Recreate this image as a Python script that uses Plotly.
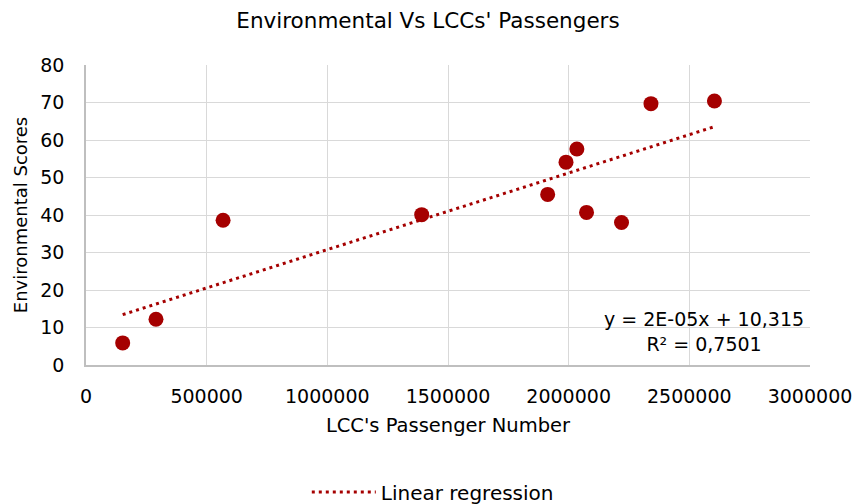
import numpy as np
import plotly.graph_objects as go

# Data
passengers = [152000, 290000, 568000, 1391000, 1913000, 1989000, 2034000, 2074000, 2219000, 2341000, 2604000]
env_scores = [5.9, 12.2, 38.6, 40.1, 45.5, 54.1, 57.6, 40.7, 38.0, 69.7, 70.4]
x_ticks = [0, 500000, 1000000, 1500000, 2000000, 2500000, 3000000]
y_ticks = [0, 10, 20, 30, 40, 50, 60, 70, 80]

FONT = "DejaVu Sans"
RED = "#A50000"

x_arr = np.array(passengers, dtype=float)
y_arr = np.array(env_scores, dtype=float)
slope, intercept = np.polyfit(x_arr, y_arr, 1)
fit_x = [x_arr.min(), x_arr.max()]
fit_y = [slope * v + intercept for v in fit_x]

fig = go.Figure()
fig.add_trace(go.Scatter(
    x=passengers, y=env_scores, mode="markers",
    marker=dict(color=RED, size=15),
    showlegend=False, name="Data"))
fig.add_trace(go.Scatter(
    x=fit_x, y=fit_y, mode="lines",
    line=dict(color=RED, width=3, dash="3px,4px"),
    name="Linear regression", showlegend=True))

fig.add_annotation(
    x=0.8536, y=0.113, xref="paper", yref="paper",
    text="y = 2E-05x + 10,315<br>R² = 0,7501",
    showarrow=False, align="center", xanchor="center", yanchor="middle",
    font=dict(family=FONT, size=19, color="#000000"))

axis_common = dict(
    showgrid=True, gridcolor="#D9D9D9", gridwidth=1.3,
    zeroline=False, showline=True, linecolor="#BFBFBF", linewidth=1.5,
    ticks="", tickfont=dict(family=FONT, size=19, color="#000000"),
)

fig.update_layout(
    width=856, height=504,
    margin=dict(l=86, r=46, t=65, b=139, autoexpand=False),
    paper_bgcolor="white", plot_bgcolor="white",
    title=dict(text="Environmental Vs LCCs' Passengers", x=0.5, xanchor="center",
               y=0.96, yanchor="middle",
               font=dict(family=FONT, size=21.5, color="#000000")),
    xaxis=dict(range=[0, 3000000], tickvals=x_ticks, tickformat="d",
               ticklabelstandoff=13,
               title=dict(text="LCC's Passenger Number", standoff=13,
                          font=dict(family=FONT, size=19.5, color="#000000")),
               **axis_common),
    yaxis=dict(range=[0, 80], tickvals=y_ticks, ticklabelstandoff=16,
               title=dict(text="Environmental Scores", standoff=8,
                          font=dict(family=FONT, size=18, color="#000000")),
               **axis_common),
    legend=dict(orientation="h", x=0.479, xanchor="center", y=-0.423, yanchor="middle",
                itemwidth=64,
                font=dict(family=FONT, size=20, color="#000000")),
)

fig.write_html("out.html")
